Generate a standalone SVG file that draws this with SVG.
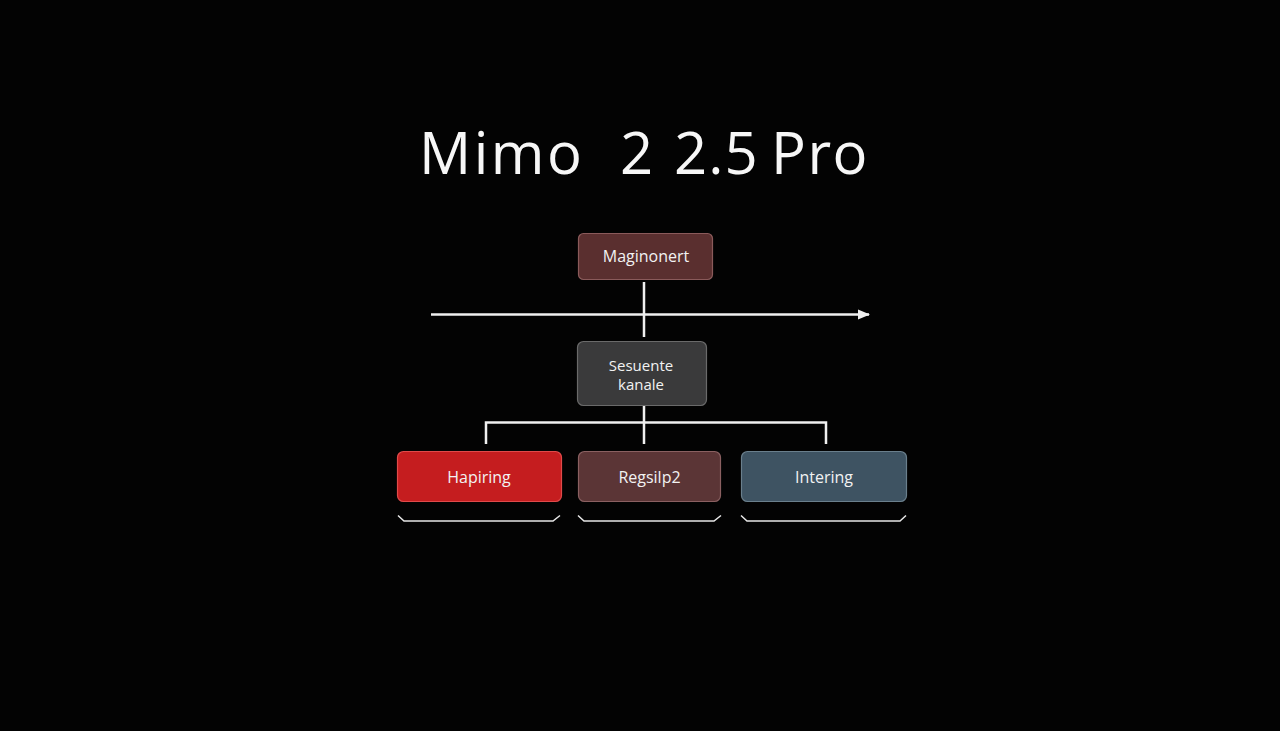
<svg xmlns="http://www.w3.org/2000/svg" width="1280" height="731" viewBox="0 0 1280 731">
<style>
.bg{fill:#030303}
.node{stroke-width:1.2}
.t{font-family:"Open Sans","Noto Sans","Liberation Sans",sans-serif;fill:#f2f2f2;text-anchor:middle}
.ttl{font-family:"Open Sans","Noto Sans","Liberation Sans",sans-serif;fill:#f7f7f7;font-size:58px;font-weight:500}
.lbl{font-size:16px}
.wire{stroke:#f0f0f0;stroke-width:2.5;fill:none}
.brk{stroke:#e8e8e8;stroke-width:1.5;fill:none}
</style>
<defs>
<marker id="ah" markerWidth="14" markerHeight="14" refX="11" refY="7" orient="auto" markerUnits="userSpaceOnUse">
<path d="M0,2 L12,7 L0,12 Z" fill="#f0f0f0"/>
</marker>
</defs>
<rect class="bg" width="1280" height="731"/>
<g id="title">
<text class="ttl" x="419" y="174" letter-spacing="2.5">Mimo</text>
<text class="ttl" x="620" y="174">2</text>
<text class="ttl" x="674" y="174" letter-spacing="1">2.5</text>
<text class="ttl" x="771" y="174" letter-spacing="1.5">Pro</text>
</g>
<g id="connectors">
<line class="wire" x1="431" y1="314.5" x2="869" y2="314.5" marker-end="url(#ah)"/>
<line class="wire" x1="644" y1="282" x2="644" y2="337"/>
<line class="wire" x1="644" y1="405" x2="644" y2="444"/>
<polyline class="wire" points="486,444 486,422.5 826,422.5 826,444"/>
</g>
<g id="node-maginonert">
<rect class="node" x="578.5" y="233.5" width="134" height="46" rx="5" fill="#5a2f2f" stroke="#8a5a5a"/>
<text class="t lbl" x="646" y="262">Maginonert</text>
</g>
<g id="node-sesuente">
<rect class="node" x="577.5" y="341.5" width="129" height="64" rx="6" fill="#3a3a3b" stroke="#6a6a6a"/>
<text class="t" font-size="15" x="641" y="370.5">Sesuente</text>
<text class="t" font-size="15" x="641" y="389.5">kanale</text>
</g>
<g id="node-hapiring">
<rect class="node" x="397.5" y="451.5" width="164" height="50" rx="6" fill="#c51d1f" stroke="#e04a4a"/>
<text class="t lbl" x="479" y="483">Hapiring</text>
</g>
<g id="node-regsilp2">
<rect class="node" x="578.5" y="451.5" width="142" height="50" rx="6" fill="#5b3536" stroke="#8a6061"/>
<text class="t lbl" x="649.5" y="483">Regsilp2</text>
</g>
<g id="node-intering">
<rect class="node" x="741.5" y="451.5" width="165" height="50" rx="6" fill="#3e5362" stroke="#6a7f8c"/>
<text class="t lbl" x="824" y="483">Intering</text>
</g>
<g id="brackets">
<polyline class="brk" points="398,515.5 404,521 553,521 560,515.5"/>
<polyline class="brk" points="578,515.5 584,521 714,521 721,515.5"/>
<polyline class="brk" points="741,515.5 747,521 900,521 906,515.5"/>
</g>
</svg>
